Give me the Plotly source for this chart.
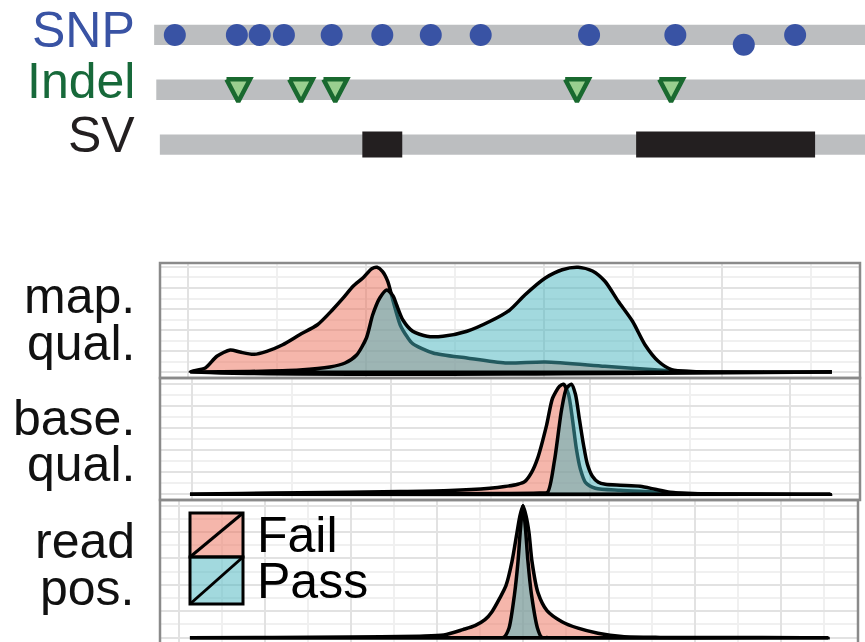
import plotly.graph_objects as go

W, H = 865, 642

# ---------------- data ----------------
track_names = ["SNP", "Indel", "SV"]
track_rows = [3, 2, 1]
track_start = [3, 6, 11]
track_end = 1000

snp_pos = [32, 119, 151, 185, 252, 323, 391, 461, 613, 734, 830, 902]
snp_row = [3, 3, 3, 3, 3, 3, 3, 3, 3, 3, 2.82, 3]

indel_pos = [121, 209, 257, 596, 728]

sv_start = [295, 679]
sv_end = [351, 930]

# density panels (x in panel units, y normalised density)
mq_x_fail = [0.3, 2.0, 3.3, 4.8, 5.9, 7.4, 8.9, 10.7, 12.6, 14.6, 16.3, 17.5, 18.6, 19.7, 20.7, 21.3,
             21.9, 22.5, 23.1, 23.9, 24.7, 25.3, 27.6, 31.4, 35.7, 40.2, 46.9, 52.5, 55.1, 57.6, 72.4]
mq_y_fail = [0, .038, .150, .210, .190, .168, .197, .260, .355, .450, .593, .705, .816, .895, .984, .997,
             .959, .864, .676, .448, .333, .271, .181, .133, .086, .095, .054, .022, .007, 0, 0]
mq_x_pass = [0.3, 7.0, 12.6, 16.0, 17.7, 19.0, 20.1, 20.8, 21.6, 22.4, 23.1, 23.5, 24.2, 25.3, 26.9, 28.7,
             31.4, 34.0, 36.2, 37.9, 40.2, 42.1, 43.9, 45.5, 46.9, 48.4, 50.0, 51.4, 52.9, 54.4, 56.7, 59.8, 72.4]
mq_y_pass = [0, .005, .019, .048, .086, .162, .324, .543, .705, .781, .724, .638, .495, .388, .340, .340,
             .388, .483, .590, .733, .895, .974, .997, .962, .864, .673, .483, .260, .102, .022, .005, 0, 0]

bq_x_fail = [-0.2, 5.0, 10.8, 20.9, 25.9, 29.9, 31.4, 32.7, 33.4, 34.1, 34.7, 35.6, 36.2, 36.9, 37.3, 37.8,
             38.2, 38.6, 39.0, 39.5, 40.5, 43.0, 46.0, 49.0, 53.0, 64.1]
bq_y_fail = [0, .007, .014, .025, .034, .055, .070, .091, .115, .200, .327, .627, .873, .982, 1.0, .909,
             .682, .409, .227, .109, .055, .036, .023, .009, .003, 0]
bq_x_pass = [-0.2, 20.9, 30.9, 34.9, 35.7, 36.4, 37.1, 37.6, 38.1, 38.5, 38.9, 39.3, 39.7, 40.2, 40.8, 41.5,
             43.0, 45.0, 46.5, 48.0, 50.0, 54.0, 64.1]
bq_y_pass = [0, .003, .007, .011, .018, .309, .764, .964, 1.0, .909, .682, .455, .273, .164, .109, .091,
             .082, .073, .045, .018, .006, .002, 0]

rp_x_fail = [-38.72, -20.12, -11.98, -9.19, -6.98, -5.58, -4.42, -3.60, -2.67, -1.98, -1.28, -0.70, -0.35,
             0, 0.35, 0.70, 1.05, 1.74, 2.79, 4.53, 6.40, 8.72, 11.51, 15.93, 35.47]
rp_y_fail = [0, .004, .011, .020, .061, .091, .136, .197, .303, .394, .576, .795, .924,
             1.0, .924, .795, .576, .341, .205, .121, .072, .034, .009, .002, 0]
rp_x_pass = [-38.72, -3.26, -2.21, -1.63, -0.99, -0.58, -0.29, 0, 0.29, 0.58, 0.99, 1.69, 2.15, 2.91, 35.47]
rp_y_pass = [0, 0, .004, .071, .326, .576, .826, 1.0, .826, .576, .326, .071, .004, 0, 0]

panel_labels = [["map.", "qual."], ["base.", "qual."], ["read", "pos."]]
legend_labels = ["Fail", "Pass"]

# ---------------- styles ----------------
FONT = "Liberation Sans, Arial, Helvetica, sans-serif"
FS = 50
SNP_COL = "#3953a4"
INDEL_COL = "#17693a"
SV_COL = "#231f20"
BAR_COL = "#bcbec0"
FAIL_FILL = "rgba(236,110,88,0.5)"
PASS_FILL = "rgba(70,180,190,0.5)"
GRID_MAJ = "#e2e2e2"
GRID_MIN = "#f0f0f0"
BORDER = "#8a8a8a"


def px_x(p):
    return p / W


def px_y(p):
    return 1 - p / H


fig = go.Figure()

# ---- top tracks ----
shapes = []
for row, st in zip(track_rows, track_start):
    shapes.append(dict(type="rect", xref="x", yref="y", x0=st, x1=track_end, y0=row - 0.185, y1=row + 0.185,
                       fillcolor=BAR_COL, line=dict(width=0), layer="below"))
for s, e in zip(sv_start, sv_end):
    shapes.append(dict(type="rect", xref="x", yref="y", x0=s, x1=e, y0=1 - 0.237, y1=1 + 0.237,
                       fillcolor=SV_COL, line=dict(width=0)))

fig.add_trace(go.Scatter(x=snp_pos, y=snp_row, mode="markers", xaxis="x", yaxis="y",
                         marker=dict(size=22, color=SNP_COL, line=dict(width=0)), hoverinfo="skip"))

tx, ty = [], []
for p in indel_pos:
    tx += [p - 16.5, p + 16.5, p, p - 16.5, None]
    ty += [2 + 0.19, 2 + 0.19, 2 - 0.22, 2 + 0.19, None]
fig.add_trace(go.Scatter(x=tx, y=ty, mode="lines", fill="toself", fillcolor="#99cf8f",
                         line=dict(color="#19692f", width=4.5), xaxis="x", yaxis="y", hoverinfo="skip"))

# ---- density panels ----
panels = [
    (mq_x_fail, mq_y_fail, mq_x_pass, mq_y_pass),
    (bq_x_fail, bq_y_fail, bq_x_pass, bq_y_pass),
    (rp_x_fail, rp_y_fail, rp_x_pass, rp_y_pass),
]
for i, (xf, yf, xp, yp) in enumerate(panels):
    ax = str(i + 2)
    for xs, ys, col in [(xf, yf, FAIL_FILL), (xp, yp, PASS_FILL)]:
        fig.add_trace(go.Scatter(x=list(xs) + [xs[0]], y=list(ys) + [0], mode="lines", fill="toself",
                                 fillcolor=col, line=dict(color="black", width=3.5, shape="spline", smoothing=0.7),
                                 xaxis="x" + ax, yaxis="y" + ax, hoverinfo="skip"))

panel_px = [(160, 860, 263, 378), (160, 860, 378, 500), (160, 858, 500, 642)]
xranges = [(-3.09, 75.56), (-3.21, 67.07), (-42.2, 38.95)]
yranges = [(-0.057, 1.038), (-0.052, 1.057), (-0.033, 1.043)]
xdt = [(20, 10), (20, 10), (10, 5)]

layout_axes = {}
layout_axes["xaxis"] = dict(domain=[152 / W, 1], range=[0, 1000], visible=False)
layout_axes["yaxis"] = dict(domain=[px_y(171.9), px_y(7.6)], range=[0.5, 3.5], visible=False)
for i in range(3):
    x0, x1, y0, y1 = panel_px[i]
    ax = str(i + 2)
    layout_axes["xaxis" + ax] = dict(domain=[px_x(x0), px_x(x1)], range=list(xranges[i]), anchor="y" + ax,
                                     showticklabels=False, ticks="", zeroline=False, showline=False,
                                     showgrid=True, gridcolor=GRID_MAJ, gridwidth=2.2, tick0=0, dtick=xdt[i][0],
                                     minor=dict(showgrid=True, dtick=xdt[i][1], tick0=0, gridcolor=GRID_MIN,
                                                gridwidth=1.5))
    layout_axes["yaxis" + ax] = dict(domain=[max(0, px_y(y1)), px_y(y0)], range=list(yranges[i]), anchor="x" + ax,
                                     showticklabels=False, ticks="", zeroline=False, showline=False,
                                     showgrid=True, gridcolor=GRID_MAJ, gridwidth=2.2, tick0=0, dtick=0.2,
                                     minor=dict(showgrid=True, dtick=0.1, tick0=0, gridcolor=GRID_MIN,
                                                gridwidth=1.5))
    yb = y1 if i < 2 else y1 + 30
    shapes.append(dict(type="rect", xref="paper", yref="paper", x0=px_x(x0), x1=px_x(x1),
                       y0=px_y(yb), y1=px_y(y0), line=dict(color=BORDER, width=2.5),
                       fillcolor="rgba(0,0,0,0)", layer="above"))

# ---- legend (inside bottom panel) ----
leg_boxes = [(190, 243, 513, 557), (190, 243, 557, 604)]
for (bx0, bx1, by0, by1), col, lab in zip(leg_boxes, [FAIL_FILL, PASS_FILL], legend_labels):
    shapes.append(dict(type="rect", xref="paper", yref="paper", x0=px_x(bx0), x1=px_x(bx1),
                       y0=px_y(by1), y1=px_y(by0), fillcolor=col, line=dict(color="black", width=3)))
    shapes.append(dict(type="line", xref="paper", yref="paper", x0=px_x(bx0), x1=px_x(bx1),
                       y0=px_y(by1), y1=px_y(by0), line=dict(color="black", width=3)))

annotations = []
for lab, cy in zip(legend_labels, [535.0, 581.0]):
    annotations.append(dict(text=lab, x=px_x(255), y=px_y(cy), xref="paper", yref="paper", xanchor="left",
                            yanchor="middle", showarrow=False, font=dict(family=FONT, size=FS, color="black")))

for name, col, cy in zip(track_names, [SNP_COL, INDEL_COL, SV_COL], [29.5, 81.0, 134.5]):
    annotations.append(dict(text=name, x=px_x(137), y=px_y(cy), xref="paper", yref="paper", xanchor="right",
                            yanchor="middle", showarrow=False, font=dict(family=FONT, size=FS, color=col)))

label_centers = [[296.0, 343.0], [418.0, 464.0], [541.0, 588.0]]
for labs, cys in zip(panel_labels, label_centers):
    for lab, cy in zip(labs, cys):
        annotations.append(dict(text=lab, x=px_x(137), y=px_y(cy), xref="paper", yref="paper", xanchor="right",
                                yanchor="middle", showarrow=False, font=dict(family=FONT, size=FS, color="#111111")))

fig.update_layout(width=W, height=H, margin=dict(l=0, r=0, t=0, b=0), paper_bgcolor="white",
                  plot_bgcolor="white", showlegend=False, shapes=shapes, annotations=annotations,
                  **layout_axes)

fig.write_html("out.html", config={"displayModeBar": False},
               post_script="document.body.style.margin='0px';document.body.style.overflow='hidden';")
